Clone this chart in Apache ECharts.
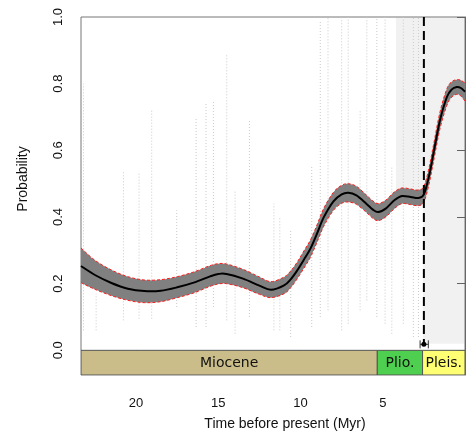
<!DOCTYPE html>
<html><head><meta charset="utf-8">
<script src="https://cdn.jsdelivr.net/npm/echarts@6/dist/echarts.min.js"></script>
<style>html,body{margin:0;padding:0;background:#fff}#c{width:472px;height:439px}</style>
</head><body><div id="c"></div>
<script>
// ---- data ----
const xMax = 23.35;
const time  = [23.35,22.5,21.5,20.5,19.5,18.5,17.5,16.5,15.5,15.0,14.5,13.5,12.5,11.8,11.0,10.6,10.2,9.8,9.4,9.0,8.6,8.0,7.5,7.1,6.6,6.0,5.6,5.27,4.8,4.3,3.84,3.3,2.83,2.5,2.2,1.92,1.52,1.1,0.8,0.5,0.25,0.0];
const mean  = [0.253,0.226,0.202,0.185,0.178,0.179,0.189,0.203,0.222,0.229,0.229,0.215,0.194,0.182,0.195,0.213,0.240,0.272,0.305,0.350,0.398,0.447,0.468,0.473,0.465,0.440,0.422,0.415,0.426,0.450,0.463,0.460,0.457,0.468,0.520,0.590,0.690,0.760,0.783,0.790,0.787,0.776];
const lower = [0.203,0.183,0.164,0.150,0.143,0.146,0.158,0.172,0.192,0.199,0.200,0.188,0.168,0.158,0.170,0.188,0.215,0.246,0.279,0.324,0.371,0.420,0.441,0.445,0.438,0.414,0.396,0.389,0.401,0.425,0.440,0.437,0.434,0.445,0.496,0.565,0.665,0.735,0.760,0.768,0.763,0.748];
const upper = [0.307,0.270,0.241,0.221,0.211,0.212,0.221,0.235,0.254,0.260,0.259,0.243,0.220,0.206,0.220,0.238,0.265,0.298,0.331,0.376,0.425,0.474,0.495,0.500,0.492,0.466,0.448,0.440,0.451,0.475,0.487,0.484,0.481,0.492,0.545,0.615,0.715,0.785,0.806,0.812,0.810,0.802];
// background sample streaks: [time, yLow, yHigh]
const streaks = [[23.2,0.06,0.80],[22.43,0.06,0.17],[20.77,0.09,0.54],[19.82,0.095,0.53],[19.05,0.095,0.72],[17.53,0.13,0.42],[16.35,0.07,0.70],[15.75,0.07,0.74],[15.3,0.13,0.75],[14.49,0.09,0.89],[13.98,0.05,0.48],[13.11,0.10,0.69],[11.62,0.06,0.44],[11.26,0.06,0.40],[10.6,0.04,0.36],[9.32,0.07,0.55],[8.8,0.10,0.99],[8.33,0.12,1.0],[7.5,0.06,1.0],[7.1,0.08,1.0],[6.38,0.12,0.72],[5.97,0.15,1.0],[5.36,0.10,1.0],[4.86,0.08,1.0],[4.45,0.05,0.55],[3.75,0.08,1.0],[3.14,0.04,1.0],[2.83,0.04,1.0]];
// dense sample clouds: [tStart, tEnd, yLow, yHigh]
const clouds = [[2.55,0.0,0.02,1.0],[4.2,2.55,0.45,1.0]];
// epochs
const epochNames = ['Miocene','Plio.','Pleis.'];
const epochStart = [23.35,5.333,2.58];
const epochEnd   = [5.333,2.58,0.0];
const epochColors = ['#CABD8A','#4FCF4F','#FFFF73'];
// event (dashed line) and its interval
const eventTime = 2.5, eventLow = 2.23, eventHigh = 2.73;
const yTicks = [0,0.2,0.4,0.6,0.8,1.0];
const xTicks = [5,10,15,20];

const chart = echarts.init(document.getElementById('c'), null, {renderer:'canvas'});
const FONT = '"Liberation Sans", Arial, sans-serif';

// Catmull-Rom smoothing of pixel points into a cubic path
function smoothPath(pts, moveFirst){
  let d = (moveFirst?'M':'L') + pts[0][0] + ',' + pts[0][1];
  for (let i=0;i<pts.length-1;i++){
    const p0=pts[i-1]||pts[i], p1=pts[i], p2=pts[i+1], p3=pts[i+2]||pts[i+1];
    const c1=[p1[0]+(p2[0]-p0[0])/6, p1[1]+(p2[1]-p0[1])/6];
    const c2=[p2[0]-(p3[0]-p1[0])/6, p2[1]-(p3[1]-p1[1])/6];
    d += ' C'+c1[0]+','+c1[1]+' '+c2[0]+','+c2[1]+' '+p2[0]+','+p2[1];
  }
  return d;
}

chart.setOption({
  animation:false,
  grid:{left:81,right:7,top:17,bottom:64,show:true,borderColor:'#777',borderWidth:1,backgroundColor:'transparent'},
  xAxis:{type:'value',min:0,max:xMax,inverse:true,interval:5,
    axisLine:{show:false},splitLine:{show:false},
    axisTick:{show:true,length:8,customValues:xTicks,lineStyle:{color:'#555'}},
    axisLabel:{customValues:xTicks,margin:22,color:'#111',fontSize:13,fontFamily:FONT}},
  yAxis:{type:'value',min:-0.074,max:1,
    axisLine:{show:true,lineStyle:{color:'#666'}},splitLine:{show:false},
    axisTick:{show:true,length:8,customValues:yTicks,lineStyle:{color:'#555'}},
    axisLabel:{customValues:yTicks,rotate:90,margin:16,color:'#111',fontSize:13,fontFamily:FONT,
      formatter:v=>v.toFixed(1)}},
  graphic:[
    {type:'text',x:285,y:424,style:{text:'Time before present (Myr)',font:'14px '+FONT,fill:'#111',textAlign:'center',textVerticalAlign:'middle'}},
    {type:'text',x:23,y:179,rotation:Math.PI/2,style:{text:'Probability',font:'14px '+FONT,fill:'#111',textAlign:'center',textVerticalAlign:'middle'}}
  ],
  series:[
    {type:'custom',z:1,silent:true,data:clouds,clip:true,
      renderItem:(p,api)=>{const a=api.coord([api.value(0),api.value(3)]);const b=api.coord([api.value(1),api.value(2)]);
        return {type:'rect',shape:{x:Math.min(a[0],b[0]),y:a[1],width:Math.abs(b[0]-a[0]),height:b[1]-a[1]},style:{fill:'rgba(170,170,170,0.16)'}};}},
    {type:'custom',z:2,silent:true,data:streaks,clip:true,
      renderItem:(p,api)=>{const a=api.coord([api.value(0),api.value(1)]);const b=api.coord([api.value(0),api.value(2)]);
        return {type:'line',shape:{x1:a[0],y1:a[1],x2:b[0],y2:b[1]},style:{stroke:'#cacaca',lineWidth:1,lineDash:[1,2]}};}},
    {type:'custom',z:3,silent:true,clip:false,data:time.map((t,i)=>[t,mean[i]]),
      renderItem:(p,api)=>{
        if (p.dataIndex!==0) return null;
        const U=time.map((t,i)=>api.coord([t,upper[i]]));
        const L=time.map((t,i)=>api.coord([t,lower[i]]));
        const M=time.map((t,i)=>api.coord([t,mean[i]]));
        const band = smoothPath(U,true)+' '+smoothPath(L.slice().reverse(),false)+' Z';
        return {type:'group',children:[
          {type:'path',shape:{pathData:band},style:{fill:'#808080',stroke:null}},
          {type:'path',shape:{pathData:smoothPath(U,true)},style:{fill:null,stroke:'#ff1a1a',lineWidth:1,lineDash:[3,2]}},
          {type:'path',shape:{pathData:smoothPath(L,true)},style:{fill:null,stroke:'#ff1a1a',lineWidth:1,lineDash:[3,2]}},
          {type:'path',shape:{pathData:smoothPath(M,true)},style:{fill:null,stroke:'#000',lineWidth:2}}
        ]};}},
    {type:'custom',z:6,silent:true,data:[[eventTime,eventLow,eventHigh]],clip:false,
      renderItem:(p,api)=>{const t=api.value(0);const top=api.coord([t,1]);const bot=api.coord([t,0.018]);
        const l=api.coord([api.value(1),0.018]);const h=api.coord([api.value(2),0.018]);
        const y1=api.coord([t,0.03])[1],y2=api.coord([t,0.006])[1];
        return {type:'group',children:[
          {type:'line',shape:{x1:top[0],y1:top[1],x2:bot[0],y2:bot[1]},style:{stroke:'#000',lineWidth:2,lineDash:[9,5]}},
          {type:'line',shape:{x1:l[0],y1:bot[1],x2:h[0],y2:bot[1]},style:{stroke:'#333',lineWidth:1}},
          {type:'line',shape:{x1:l[0],y1:y1,x2:l[0],y2:y2},style:{stroke:'#333',lineWidth:1}},
          {type:'line',shape:{x1:h[0],y1:y1,x2:h[0],y2:y2},style:{stroke:'#333',lineWidth:1}},
          {type:'circle',shape:{cx:bot[0],cy:bot[1],r:2.5},style:{fill:'#000'}}]};}},
    {type:'custom',z:7,silent:true,clip:true,data:epochNames.map((n,i)=>[epochStart[i],epochEnd[i],i]),
      renderItem:(p,api)=>{const i=api.value(2);const a=api.coord([Math.min(api.value(0),xMax),0]);const b=api.coord([api.value(1),-0.074]);
        const x=Math.min(a[0],b[0]),w=Math.abs(b[0]-a[0]);
        return {type:'group',children:[
          {type:'rect',shape:{x:x,y:a[1],width:w,height:b[1]-a[1]},style:{fill:epochColors[i],stroke:'#555',lineWidth:1}},
          {type:'text',x:x+w/2,y:(a[1]+b[1])/2+1,style:{text:epochNames[i],font:'14px "DejaVu Sans", sans-serif',fill:'#111',textAlign:'center',textVerticalAlign:'middle'}}]};}}
  ]
});
</script></body></html>
